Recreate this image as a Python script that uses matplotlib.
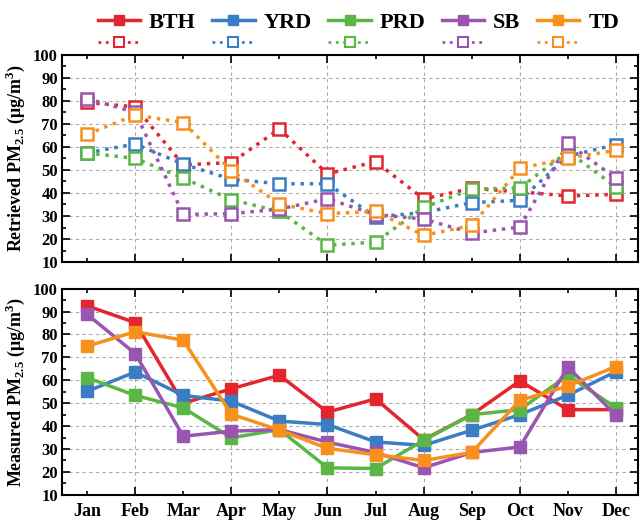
import numpy as np
import matplotlib
matplotlib.use("Agg")
import matplotlib.pyplot as plt
from matplotlib.lines import Line2D

plt.rcParams['font.family'] = ['Liberation Serif', 'DejaVu Serif']
plt.rcParams['font.weight'] = 'bold'
plt.rcParams['mathtext.fontset'] = 'custom'
plt.rcParams['mathtext.rm'] = 'Liberation Serif:bold'
plt.rcParams['mathtext.bf'] = 'Liberation Serif:bold'

months = ['Jan', 'Feb', 'Mar', 'Apr', 'May', 'Jun', 'Jul', 'Aug', 'Sep', 'Oct', 'Nov', 'Dec']
regions = ['BTH', 'YRD', 'PRD', 'SB', 'TD']
colors = ['#E3262E', '#3B7DC4', '#5BB646', '#9A55B0', '#F8901E']

# retrieved PM2.5 (top panel)
ret_bth = [79.3, 77.4, 52.2, 53.2, 67.8, 48.3, 53.6, 37.4, 42.0, 40.5, 38.7, 39.4]
ret_yrd = [57.4, 61.3, 52.5, 46.0, 44.0, 44.0, 29.6, 31.5, 35.8, 36.8, 56.0, 61.0]
ret_prd = [57.4, 55.0, 46.5, 37.1, 32.0, 17.3, 18.7, 33.7, 41.6, 42.2, 58.0, 42.6]
ret_sb = [81.0, 75.0, 30.7, 31.0, 33.0, 37.5, 30.6, 28.7, 22.6, 25.2, 61.5, 46.4]
ret_td = [65.5, 73.8, 70.6, 49.7, 35.2, 31.0, 32.0, 21.6, 25.9, 50.7, 55.1, 58.5]

# measured PM2.5 (bottom panel)
mea_bth = [92.5, 85.2, 50.0, 56.3, 62.2, 46.1, 51.9, 34.1, 45.0, 59.7, 47.2, 47.2]
mea_yrd = [55.2, 63.6, 53.4, 50.9, 42.2, 40.7, 33.1, 31.6, 38.2, 45.0, 53.5, 63.8]
mea_prd = [61.2, 53.4, 48.0, 34.9, 38.5, 21.8, 21.5, 33.8, 45.0, 47.2, 62.2, 48.0]
mea_sb = [88.8, 71.7, 35.6, 37.8, 38.5, 33.0, 28.5, 21.8, 28.5, 30.9, 65.8, 44.7]
mea_td = [74.9, 81.2, 77.5, 45.2, 38.3, 30.3, 27.5, 25.0, 28.5, 51.2, 57.5, 66.0]

retrieved = [ret_bth, ret_yrd, ret_prd, ret_sb, ret_td]
measured = [mea_bth, mea_yrd, mea_prd, mea_sb, mea_td]

x = np.arange(12)

fig = plt.figure(figsize=(6.4, 5.22), dpi=100)
ax1 = fig.add_axes([0.097, 0.498, 0.9, 0.397])
ax2 = fig.add_axes([0.097, 0.052, 0.9, 0.395])


def style_axis(ax, show_labels):
    ax.set_xlim(-0.52, 11.46)
    ax.set_ylim(10, 100)
    ax.set_yticks(np.arange(10, 101, 10))
    ax.set_yticks(np.arange(15, 100, 10), minor=True)
    ax.set_xticks(x[1::2])
    if show_labels:
        ax.set_xticklabels(months[1::2])
        ax.set_xticks(x[0::2], months[0::2], minor=True)
    else:
        ax.set_xticklabels([])
        ax.set_xticks(x[0::2], minor=True)
    ax.tick_params(which='both', direction='in', top=True, right=True, width=1.2)
    ax.tick_params(which='major', length=6, labelsize=12)
    ax.tick_params(which='minor', length=3, labelsize=12)
    ax.tick_params(axis='x', which='both', pad=6, labelsize=13)
    ax.tick_params(axis='y', labelsize=12, pad=3)
    for lab in ax.get_xticklabels(which='both') + ax.get_yticklabels():
        lab.set_fontweight('bold')
    ax.grid(True, which='major', linestyle=(0, (3, 3)), color='#aaaaaa', linewidth=0.8)
    for s in ax.spines.values():
        s.set_linewidth(1.5)


for vals, c in zip(retrieved, colors):
    ax1.plot(x, vals, linestyle=':', linewidth=2.5, color=c, marker='s', markersize=8,
             markerfacecolor='white', markeredgecolor=c, markeredgewidth=1.8)
for vals, c in zip(measured, colors):
    ax2.plot(x, vals, linestyle='-', linewidth=2.5, color=c, marker='s', markersize=8,
             markerfacecolor=c, markeredgecolor=c)

style_axis(ax1, False)
style_axis(ax2, True)

ax1.set_ylabel('Retrieved PM$_{2.5}$ (μg/m$^3$)', fontsize=13, fontweight='bold', labelpad=4)
ax2.set_ylabel('Measured PM$_{2.5}$ (μg/m$^3$)', fontsize=13, fontweight='bold', labelpad=4)

handles = []
labels = []
for r, c in zip(regions, colors):
    handles.append(Line2D([], [], color=c, linewidth=2.5, marker='s', markersize=7,
                          markerfacecolor=c))
    labels.append(r)
    handles.append(Line2D([], [], color=c, linewidth=2, linestyle=':', marker='s', markersize=7,
                          markerfacecolor='white', markeredgewidth=1.5))
    labels.append('')

fig.legend(handles, labels, ncol=5, loc='upper center', bbox_to_anchor=(0.56, 1.015),
           frameon=False, prop={'family': 'Liberation Serif', 'weight': 'bold', 'size': 16},
           handlelength=1.9, columnspacing=0.75, handletextpad=0.4, labelspacing=0.05)

fig.savefig('out.png', dpi=100)
